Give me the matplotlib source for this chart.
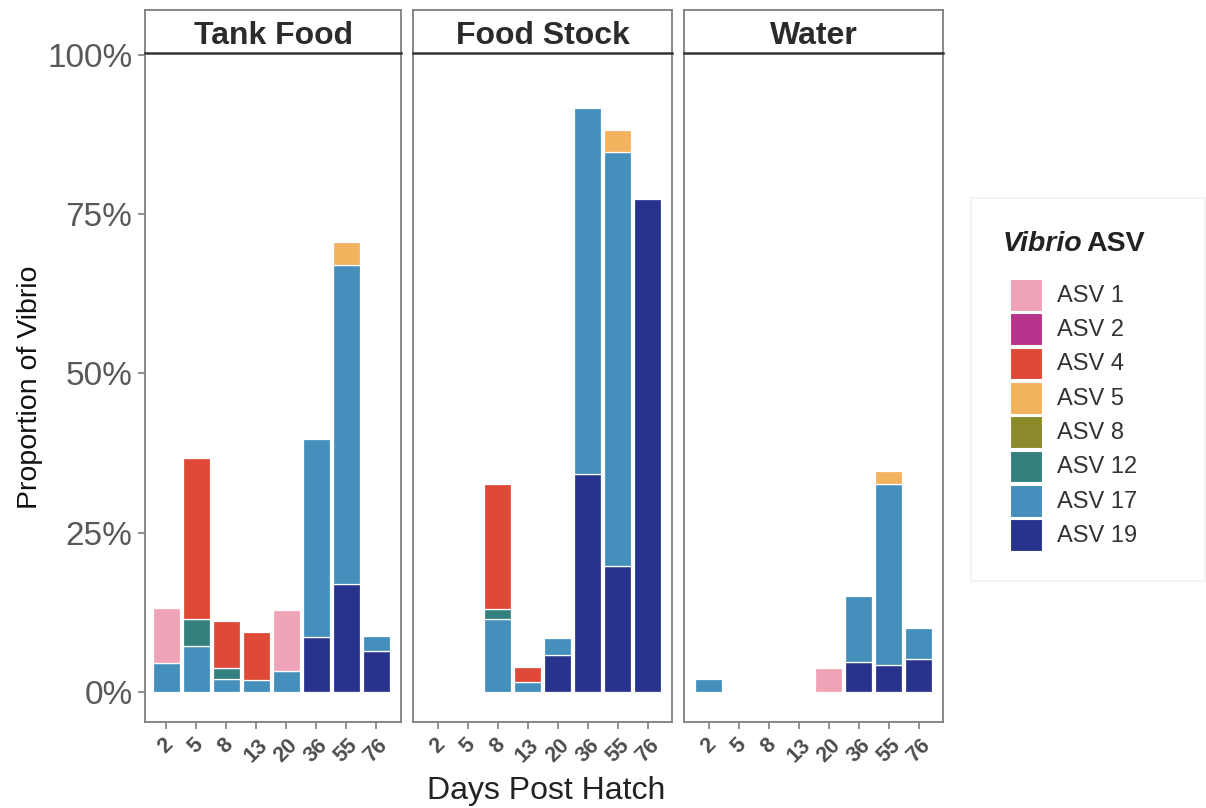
import matplotlib
matplotlib.use("Agg")
import matplotlib.pyplot as plt
from matplotlib.patches import Rectangle
import numpy as np

plt.rcParams["font.family"] = ["Liberation Sans", "DejaVu Sans"]

# ---- data (percent of Vibrio reads) ----
days = ["2", "5", "8", "13", "20", "36", "55", "76"]
facets = ["Tank Food", "Food Stock", "Water"]
asv_names = ["ASV 1", "ASV 2", "ASV 4", "ASV 5", "ASV 8", "ASV 12", "ASV 17", "ASV 19"]
asv_colors = ["#EFA3B6", "#B5338A", "#DE4A37", "#F2B25E", "#8A8A2A", "#34807F", "#448FBB", "#27338C"]

tank_food = {
    "ASV 1":  [8.7, 0, 0, 0, 9.6, 0, 0, 0],
    "ASV 4":  [0, 25.3, 7.3, 7.5, 0, 0, 0, 0],
    "ASV 5":  [0, 0, 0, 0, 0, 0, 3.6, 0],
    "ASV 12": [0, 4.2, 1.8, 0, 0, 0, 0, 0],
    "ASV 17": [4.5, 7.3, 2.0, 1.9, 3.3, 31.0, 50.0, 2.4],
    "ASV 19": [0, 0, 0, 0, 0, 8.7, 17.0, 6.4],
}
food_stock = {
    "ASV 4":  [0, 0, 19.6, 2.3, 0, 0, 0, 0],
    "ASV 5":  [0, 0, 0, 0, 0, 0, 3.4, 0],
    "ASV 12": [0, 0, 1.6, 0, 0, 0, 0, 0],
    "ASV 17": [0, 0, 11.4, 1.6, 2.7, 57.4, 65.0, 0],
    "ASV 19": [0, 0, 0, 0, 5.8, 34.3, 19.8, 77.4],
}
water = {
    "ASV 1":  [0, 0, 0, 0, 3.8, 0, 0, 0],
    "ASV 5":  [0, 0, 0, 0, 0, 0, 2.1, 0],
    "ASV 17": [2.0, 0, 0, 0, 0, 10.3, 28.4, 4.9],
    "ASV 19": [0, 0, 0, 0, 0, 4.7, 4.2, 5.2],
}
facet_data = [tank_food, food_stock, water]

y_ticks = [0, 25, 50, 75, 100]
y_ticklabels = ["0%", "25%", "50%", "75%", "100%"]

# ---- layout helpers (pixel boxes on a 1206x808 canvas) ----
W, H = 1206, 808
fig = plt.figure(figsize=(W / 100, H / 100), dpi=100)
fig.patch.set_facecolor("white")


def box(x0, y0, x1, y1):
    return [x0 / W, 1 - y1 / H, (x1 - x0) / W, (y1 - y0) / H]


panel_x = [(145, 401), (412.7, 672.3), (683.7, 943.3)]
panel_xlim = [(-0.70, 7.83), (-0.83, 7.82), (-0.84, 7.81)]
panel_top, panel_bottom = 53, 722
strip_top = 10

axis_grey = "#7f7f7f"
pos = np.arange(len(days))

for i, (name, data) in enumerate(zip(facets, facet_data)):
    x0, x1 = panel_x[i]
    ax = fig.add_axes(box(x0, panel_top, x1, panel_bottom))
    bottom = np.zeros(len(days))
    # stack from the last ASV upward so ASV 19 sits at the base
    for asv, col in reversed(list(zip(asv_names, asv_colors))):
        vals = np.array(data.get(asv, [0] * len(days)), dtype=float)
        mask = vals > 0
        if mask.any():
            ax.bar(pos[mask], vals[mask], bottom=bottom[mask], width=0.9,
                   color=col, edgecolor="white", linewidth=0.9)
        bottom += vals
    ax.set_xlim(*panel_xlim[i])
    ax.set_ylim(-4.7, 100.3)
    ax.set_xticks(pos)
    ax.set_xticklabels(days, rotation=45, ha="center", va="top",
                       fontsize=15.5, fontweight="bold", color="#4d4d4d")
    ax.set_yticks(y_ticks)
    if i == 0:
        ax.set_yticklabels(y_ticklabels, fontsize=24, color="#595959")
        ax.tick_params(axis="y", length=5, width=1.2, color=axis_grey, pad=4)
    else:
        ax.tick_params(axis="y", left=False, labelleft=False)
    ax.tick_params(axis="x", length=5, width=1.2, color=axis_grey, pad=4)
    for sp in ax.spines.values():
        sp.set_color(axis_grey)
        sp.set_linewidth(1.3)
    ax.set_facecolor("white")

    # facet strip
    sax = fig.add_axes(box(x0, strip_top, x1, panel_top))
    sax.set_xticks([])
    sax.set_yticks([])
    sax.set_xlim(0, 1)
    sax.set_ylim(0, 1)
    for sp in sax.spines.values():
        sp.set_color(axis_grey)
        sp.set_linewidth(1.3)
    sax.spines["bottom"].set_color("#333333")
    sax.spines["bottom"].set_linewidth(1.8)
    sax.text(0.5, 0.40, name, ha="center", va="center", fontsize=23,
             fontweight="bold", color="#2b2b2b", transform=sax.transAxes)

# axis titles
fig.text(546 / W, 1 - 791 / H, "Days Post Hatch", ha="center", va="center",
         fontsize=23, color="#222222")
fig.text(30 / W, 1 - 387 / H, "Proportion of Vibrio", ha="center", va="center",
         rotation=90, fontsize=20.5, color="#111111")

# legend panel
lx0, ly0, lx1, ly1 = 970, 197, 1206, 582
lax = fig.add_axes(box(lx0, ly0, lx1, ly1))
lax.set_xlim(lx0, lx1)
lax.set_ylim(ly1, ly0)
lax.axis("off")
lax.add_patch(Rectangle((lx0 + 1, ly0 + 1), lx1 - lx0 - 2, ly1 - ly0 - 2,
                        facecolor="white", edgecolor="#f0f2ec", linewidth=1.2))
lax.text(1003, 244, "Vibrio", ha="left", va="center", fontsize=20.5,
         fontweight="bold", fontstyle="italic", color="#222222")
lax.text(1086, 244, "ASV", ha="left", va="center", fontsize=20.5,
         fontweight="bold", color="#222222")
key_top, key_step, key_size = 279, 34.3, 31.7
for k, (asv, col) in enumerate(zip(asv_names, asv_colors)):
    ky = key_top + k * key_step
    lax.add_patch(Rectangle((1010, ky), key_size, key_size, facecolor=col,
                            edgecolor="white", linewidth=0.8))
    lax.text(1057, ky + key_size / 2 + 1, asv, ha="left", va="center",
             fontsize=17, color="#333333")

fig.savefig("out.png", dpi=100, facecolor="white")
